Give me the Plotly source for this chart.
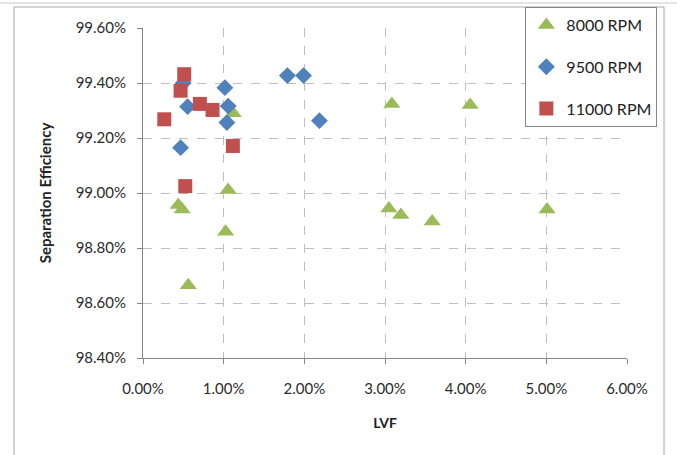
import plotly.graph_objects as go

# LVF values (fractions) and separation efficiency (fractions)
lvf_8000 = [0.01118, 0.00437, 0.00486, 0.01056, 0.01024, 0.00561,
            0.03085, 0.04056, 0.03048, 0.03197, 0.03585, 0.05009]
eff_8000 = [0.99290, 0.98956, 0.98940, 0.99011, 0.98859, 0.98665,
            0.99324, 0.99320, 0.98944, 0.98920, 0.98896, 0.98940]

lvf_9500 = [0.00499, 0.01015, 0.00553, 0.01056, 0.01040, 0.00466,
            0.01790, 0.01990, 0.02187]
eff_9500 = [0.99400, 0.99383, 0.99314, 0.99316, 0.99256, 0.99165,
            0.99427, 0.99427, 0.99263]

lvf_11000 = [0.00511, 0.00466, 0.00705, 0.00862, 0.00264, 0.01114, 0.00524]
eff_11000 = [0.99432, 0.99372, 0.99324, 0.99302, 0.99268, 0.99171, 0.99025]

series_names = ["8000 RPM", "9500 RPM", "11000 RPM"]
x_ticks = [0, 0.01, 0.02, 0.03, 0.04, 0.05, 0.06]
y_ticks = [0.984, 0.986, 0.988, 0.990, 0.992, 0.994, 0.996]

FONT = "Lato"
fig = go.Figure()
fig.add_trace(go.Scatter(x=lvf_8000, y=eff_8000, mode="markers", name=series_names[0],
                         legendgroup="a",
                         marker=dict(symbol="triangle-up", size=15, color="#9BBB59")))
fig.add_trace(go.Scatter(x=lvf_9500, y=eff_9500, mode="markers", name=series_names[1],
                         legendgroup="b",
                         marker=dict(symbol="diamond", size=13, color="#4F81BD")))
fig.add_trace(go.Scatter(x=lvf_11000, y=eff_11000, mode="markers", name=series_names[2],
                         legendgroup="c",
                         marker=dict(symbol="square", size=14, color="#C0504D")))

grid = dict(showgrid=True, gridcolor="#BFBFBF", griddash="dash", gridwidth=1,
            showline=True, linecolor="#868686", linewidth=1,
            ticks="outside", ticklen=5, tickcolor="#868686",
            tickfont=dict(family=FONT, size=15, color="#2b2b2b"),
            zeroline=False)

fig.update_layout(
    width=677, height=455,
    margin=dict(l=143, r=50, t=28, b=97, autoexpand=False),
    paper_bgcolor="white", plot_bgcolor="white",
    font=dict(family=FONT, color="#333333"),
    xaxis=dict(range=[0, 0.06], tickvals=x_ticks, tickformat=".2%",
               title=dict(text="<b>LVF</b>", font=dict(family=FONT, size=14, color="#222222"), standoff=22),
               ticklabelstandoff=12, **grid),
    yaxis=dict(range=[0.984, 0.996], tickvals=y_ticks, tickformat=".2%",
               title=dict(text="<b>Separation Efficiency</b>", font=dict(family=FONT, size=15, color="#222222"), standoff=20),
               ticklabelstandoff=8, **grid),
    legend=dict(x=0.79, y=1.0636, xanchor="left", yanchor="top",
                bgcolor="white", bordercolor="#868686", borderwidth=1,
                font=dict(family=FONT, size=16, color="#222222"),
                traceorder="grouped", tracegroupgap=18, itemwidth=30),
    showlegend=True,
)

# outer chart border and page line
fig.add_shape(type="rect", xref="paper", yref="paper",
              x0=(14 - 143) / 484, x1=(664 - 143) / 484,
              y0=(358 - 470) / 330, y1=(358 - 7) / 330,
              line=dict(color="#A6A6A6", width=1), layer="below")
fig.add_shape(type="line", xref="paper", yref="paper",
              x0=-143 / 484, x1=(677 - 143) / 484,
              y0=(358 - 3) / 330, y1=(358 - 3) / 330,
              line=dict(color="#C8C8C8", width=1))

fig.write_html("out.html")
